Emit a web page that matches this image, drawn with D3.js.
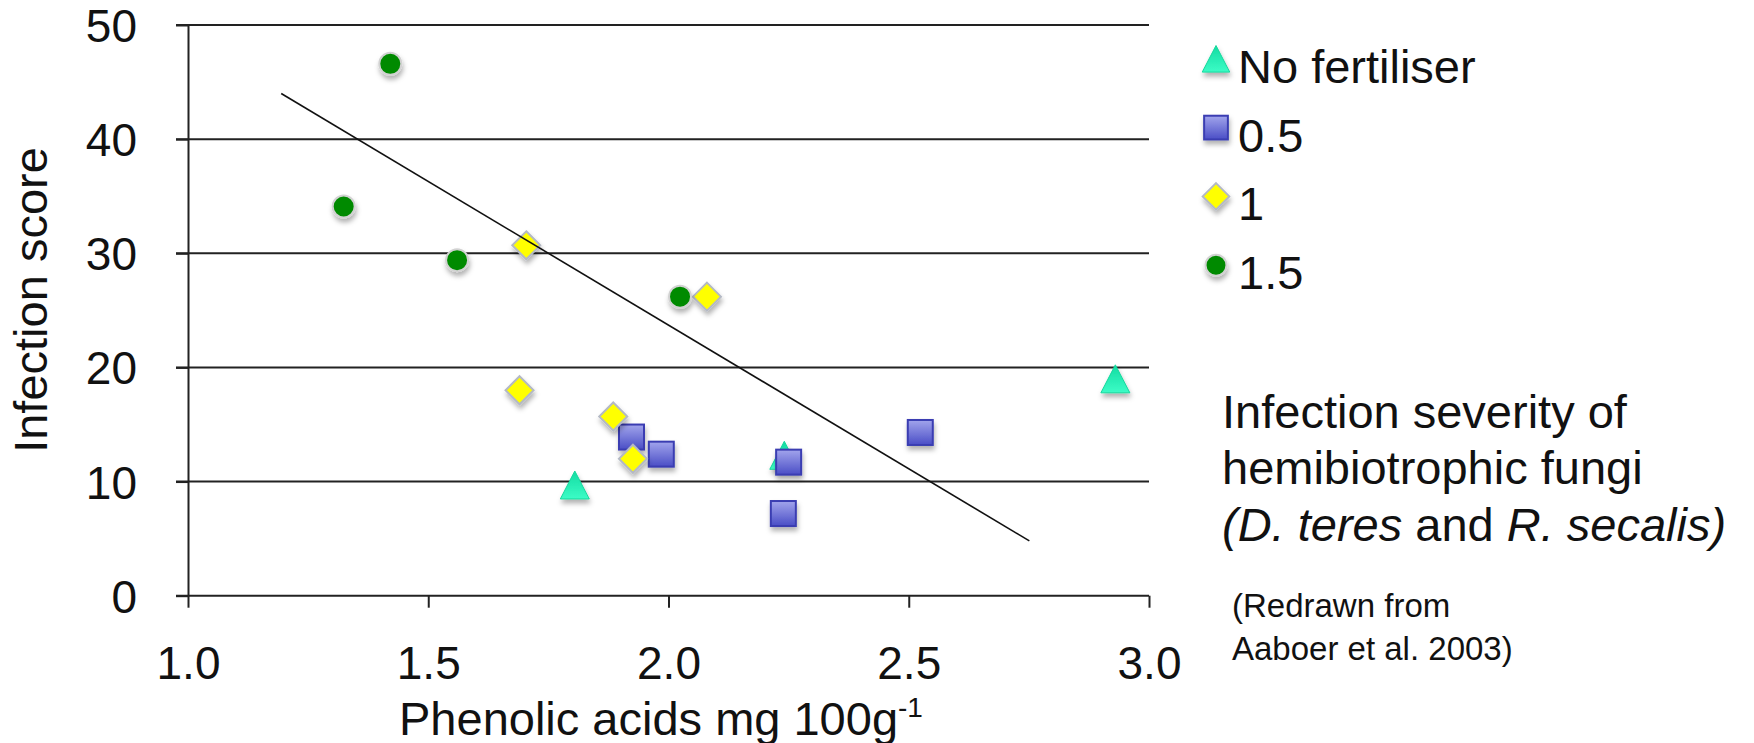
<!DOCTYPE html>
<html><head><meta charset="utf-8">
<script src="https://cdn.jsdelivr.net/npm/d3@7"></script>
<style>
body{margin:0;background:#fff}
text{font-family:"Liberation Sans",Arial,Helvetica,sans-serif;fill:#111}
</style>
</head><body>
<svg id="c" width="1754" height="743"></svg>
<script>
// ---- data ----
const xTicks = [1.0, 1.5, 2.0, 2.5, 3.0];
const yTicks = [0, 10, 20, 30, 40, 50];
const seriesNames = ["No fertiliser", "0.5", "1", "1.5"];
const noFertX = [1.805, 2.241, 2.930];
const noFertY = [9.7, 12.3, 19.0];
const halfX = [1.923, 1.985, 2.250, 2.239, 2.524];
const halfY = [13.9, 12.4, 11.7, 7.2, 14.3];
const oneX = [1.704, 1.690, 1.885, 1.926, 2.080];
const oneY = [30.7, 18.0, 15.7, 12.0, 26.2];
const onePointFiveX = [1.421, 1.324, 1.560, 2.024];
const onePointFiveY = [46.6, 34.1, 29.4, 26.2];
const trendX = [1.194, 2.751];
const trendY = [44.0, 4.8];

// ---- layout ----
const svg = d3.select("#c");
const x = d3.scaleLinear().domain([1, 3]).range([188, 1149]);
const y = d3.scaleLinear().domain([0, 50]).range([595.7, 25]);
const FS = 46;

const defs = svg.append("defs");
const f = defs.append("filter").attr("id","sh").attr("x","-50%").attr("y","-50%").attr("width","200%").attr("height","200%");
f.append("feDropShadow").attr("dx",1).attr("dy",4).attr("stdDeviation",2.5).attr("flood-color","#000").attr("flood-opacity",0.3);
const gSq = defs.append("linearGradient").attr("id","gsq").attr("x1",0).attr("y1",0).attr("x2",0).attr("y2",1);
gSq.append("stop").attr("offset","0%").attr("stop-color","#a2a5ec");
gSq.append("stop").attr("offset","100%").attr("stop-color","#4a4ec6");
const gTr = defs.append("linearGradient").attr("id","gtr").attr("x1",0).attr("y1",0).attr("x2",0).attr("y2",1);
gTr.append("stop").attr("offset","0%").attr("stop-color","#12dca2");
gTr.append("stop").attr("offset","100%").attr("stop-color","#3cfcc6");

// gridlines
svg.append("g").selectAll("line").data(yTicks.filter(d => d > 0)).join("line")
  .attr("x1", 176).attr("x2", x(3)).attr("y1", d => y(d)).attr("y2", d => y(d))
  .attr("stroke", "#222").attr("stroke-width", 2);

// y axis
const ya = svg.append("g").attr("transform", `translate(${x(1)},0)`)
  .call(d3.axisLeft(y).tickValues(yTicks).tickSize(12).tickSizeOuter(0).tickPadding(39));
ya.select(".domain").attr("stroke", "#222").attr("stroke-width", 2);
ya.selectAll(".tick line").attr("stroke", "#222").attr("stroke-width", 2);
ya.selectAll(".tick text").attr("font-size", FS).attr("font-family", null).attr("dy", "0.36em").attr("fill", "#111");

// x axis
const xa = svg.append("g").attr("transform", `translate(0,${y(0)})`)
  .call(d3.axisBottom(x).tickValues(xTicks).tickSize(12).tickSizeOuter(0).tickPadding(39).tickFormat(d3.format(".1f")));
xa.select(".domain").attr("stroke", "#222").attr("stroke-width", 2).attr("d", `M${176},0H${x(3)}`);
xa.selectAll(".tick line").attr("stroke", "#222").attr("stroke-width", 2);
xa.selectAll(".tick text").attr("font-size", FS).attr("font-family", null).attr("dy", "0.71em").attr("fill", "#111");

// markers
function drawMarker(g, type, cx, cy, s) {
  s = s || 1;
  if (type === "tri") {
    const w = 29 * s, h = 28 * s;
    g.append("path").attr("d", `M${cx},${cy - h/2}L${cx + w/2},${cy + h/2}L${cx - w/2},${cy + h/2}Z`)
      .attr("fill", "url(#gtr)").attr("stroke", "#14d89c").attr("stroke-width", 1).attr("filter", "url(#sh)");
  } else if (type === "sq") {
    const a = 25 * s;
    g.append("rect").attr("x", cx - a/2).attr("y", cy - a/2).attr("width", a).attr("height", a)
      .attr("fill", "url(#gsq)").attr("stroke", "#3a3eb2").attr("stroke-width", 2).attr("filter", "url(#sh)");
  } else if (type === "dia") {
    const r = 14 * s;
    g.append("path").attr("d", `M${cx},${cy - r}L${cx + r},${cy}L${cx},${cy + r}L${cx - r},${cy}Z`)
      .attr("fill", "#ffff00").attr("stroke", "#b4b9c4").attr("stroke-width", 2).attr("filter", "url(#sh)");
  } else {
    g.append("circle").attr("cx", cx).attr("cy", cy).attr("r", 11 * s)
      .attr("fill", "#008a00").attr("stroke", "#d2d2d2").attr("stroke-width", 2).attr("filter", "url(#sh)");
  }
}
const series = [
  {name: seriesNames[0], type: "tri", xs: noFertX, ys: noFertY},
  {name: seriesNames[1], type: "sq", xs: halfX, ys: halfY},
  {name: seriesNames[2], type: "dia", xs: oneX, ys: oneY},
  {name: seriesNames[3], type: "circ", xs: onePointFiveX, ys: onePointFiveY}
];
const mg = svg.append("g");
series.forEach(s => s.xs.forEach((v, i) => drawMarker(mg, s.type, x(v), y(s.ys[i]))));

// trend line
svg.append("path").datum(trendX.map((v, i) => [v, trendY[i]]))
  .attr("d", d3.line().x(d => x(d[0])).y(d => y(d[1])))
  .attr("stroke", "#111").attr("stroke-width", 1.6).attr("fill", "none");

// legend
const lg = svg.append("g");
series.forEach((s, i) => {
  const cy = 58.8 + i * 68.8;
  drawMarker(lg, s.type, 1216, cy, 0.95);
  lg.append("text").attr("x", 1238).attr("y", cy + 24).attr("font-size", FS + 1).text(s.name);
});

// axis titles
svg.append("text").attr("transform", "translate(47,300) rotate(-90)").attr("text-anchor", "middle")
  .attr("font-size", FS + 1).text("Infection score");
const xt = svg.append("text").attr("x", 399).attr("y", 735).attr("font-size", FS + 1);
xt.append("tspan").text("Phenolic acids mg 100g");
xt.append("tspan").attr("font-size", 28).attr("dy", -18).text("-1");

// annotation
const ann = svg.append("g").attr("font-size", FS + 1);
ann.append("text").attr("x", 1222).attr("y", 428).attr("font-size", FS + 1).text("Infection severity of");
ann.append("text").attr("x", 1222).attr("y", 484).attr("font-size", FS + 1).text("hemibiotrophic fungi");
const t3 = ann.append("text").attr("x", 1222).attr("y", 541).attr("font-size", FS + 1);
t3.append("tspan").attr("font-style", "italic").text("(D. teres");
t3.append("tspan").text(" and ");
t3.append("tspan").attr("font-style", "italic").text("R. secalis)");
svg.append("text").attr("x", 1232).attr("y", 617).attr("font-size", 33).text("(Redrawn from");
svg.append("text").attr("x", 1232).attr("y", 660).attr("font-size", 33).text("Aaboer et al. 2003)");
</script>
</body></html>
